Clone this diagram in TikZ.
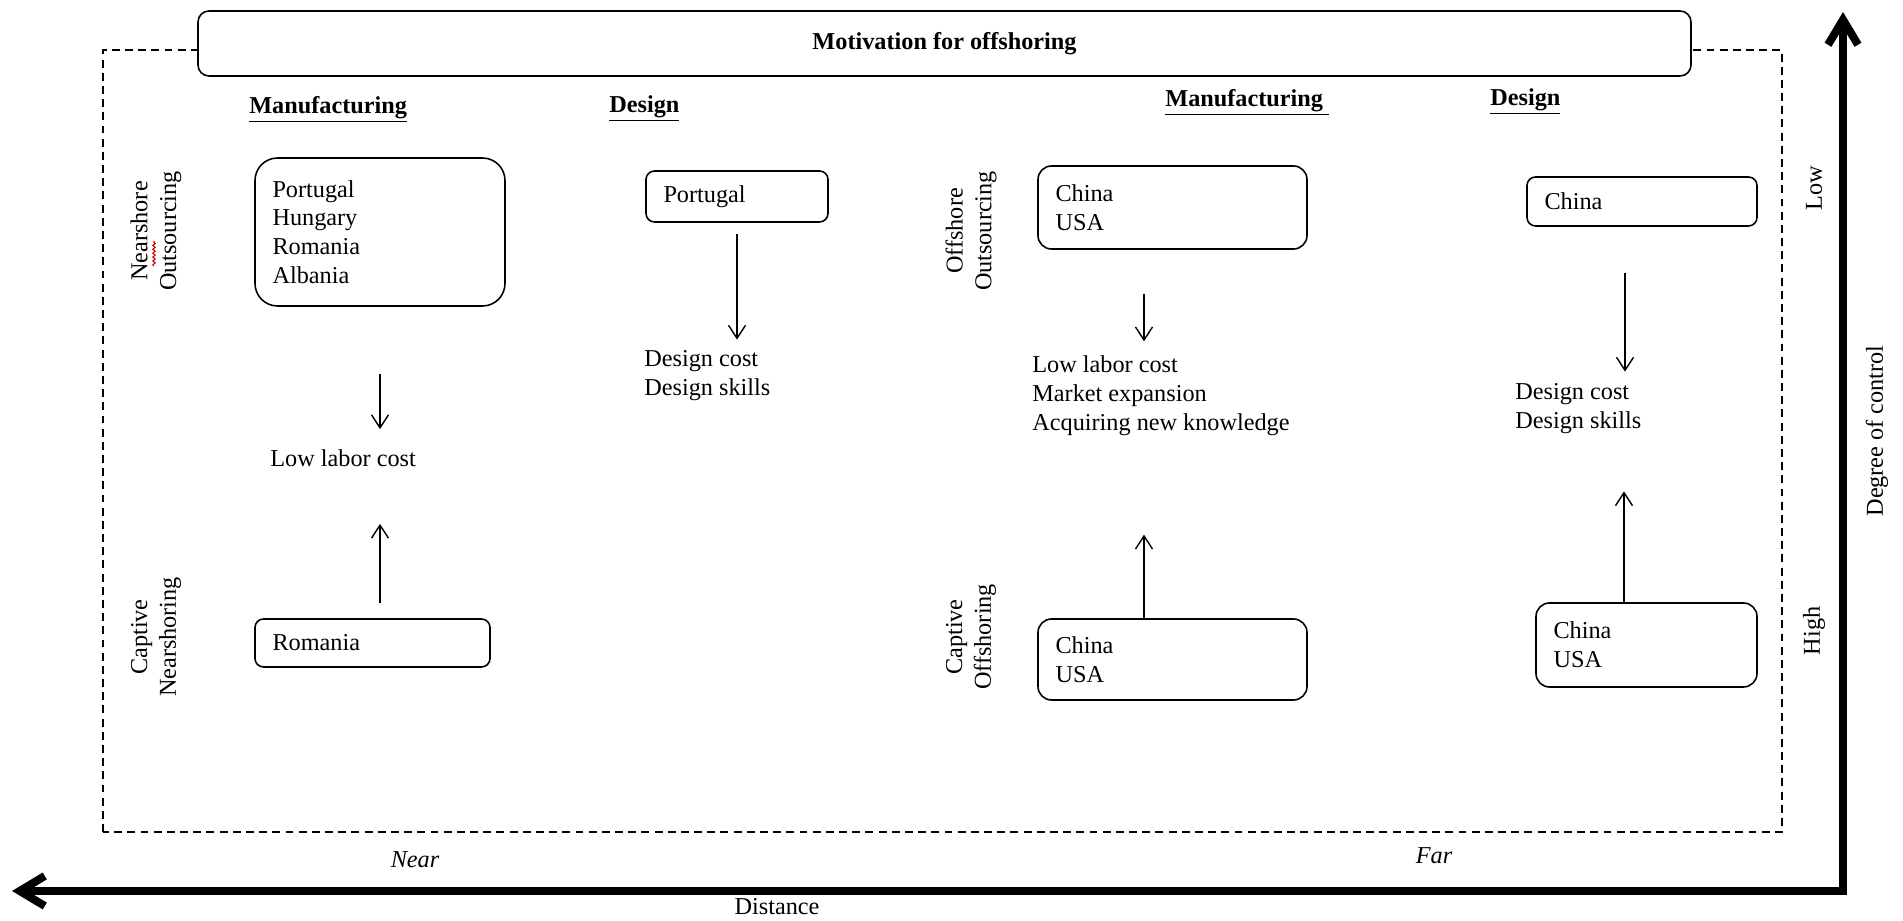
\documentclass[tikz,border=0pt]{standalone}
\usepackage{fontspec}
\setmainfont{Liberation Serif}
\usetikzlibrary{arrows.meta,decorations.pathmorphing}

\begin{document}
\begin{tikzpicture}[>={Straight Barb[length=2.6mm,width=3.4mm]},
    font=\fontsize{13.8pt}{16.4pt}\selectfont,
    box/.style={draw, line width=0.9pt, rounded corners=0.17cm, align=left,
        inner xsep=0.35cm, inner ysep=0pt},
    head/.style={anchor=west, inner sep=0pt,
        font=\fontsize{13.8pt}{16.4pt}\selectfont\bfseries},
    txt/.style={anchor=west, align=left, inner sep=0pt},
    side/.style={rotate=90, align=center, inner sep=0pt},
    thin/.style={->, line width=0.8pt}]
    \useasboundingbox (0,0) rectangle (38.06,18.42);

    \coordinate (dst) at (0.24,0.6);
    \coordinate (orig) at (36.86,0.6);
    \coordinate (ctl) at (36.86,18.18);

    \draw[line width=0.16cm, {Straight Barb[length=5mm,width=6mm]}-{Straight Barb[length=5mm,width=6mm]}]
        (dst) -- (orig) -- (ctl);
    \draw[line width=0.8pt, dash pattern=on 4.5pt off 3pt] (2.06,1.78) rectangle (35.64,17.42);

    \node[draw, fill=white, line width=0.9pt, rounded corners=0.22cm,
        minimum width=29.86cm, minimum height=1.3cm,
        font=\fontsize{13.8pt}{16.4pt}\selectfont\bfseries] (title) at (18.89,17.55)
        {Motivation for offshoring};

    \node[head] (mfgA) at (4.98,16.24) {\underline{Manufacturing}};
    \node[head] (desA) at (12.18,16.24) {\underline{Design}};
    \node[head] (mfgB) at (23.3,16.38) {\underline{Manufacturing\ }};
    \node[head] (desB) at (29.8,16.38) {\underline{Design}};

    \node[side] (nso) at (3.12,13.8) {Nearshore\\Outsourcing};
    \node[side] (cns) at (3.12,5.68) {Captive\\Nearshoring};
    \node[side] (oso) at (19.42,13.8) {Offshore\\Outsourcing};
    \node[side] (cos) at (19.42,5.68) {Captive\\Offshoring};
    \draw[red!80!black, line width=0.6pt, decorate,
        decoration={snake, amplitude=0.7pt, segment length=2.2pt}]
        ([shift={(-0.04,-0.7)}]nso.center) -- ++(0,0.5);

    \node[box, rounded corners=0.45cm, text width=4.3cm, minimum height=2.96cm] (nout)
        at (7.6,13.78) {Portugal\\Hungary\\Romania\\Albania};
    \node[box, text width=2.94cm, minimum height=1.02cm] (port) at (14.74,14.49) {Portugal};
    \node[box, text width=4.0cm, minimum height=0.96cm] (rom) at (7.45,5.56) {Romania};
    \node[box, rounded corners=0.27cm, text width=4.68cm, minimum height=1.66cm] (oout)
        at (23.45,14.27) {China\\USA};
    \node[box, rounded corners=0.27cm, text width=4.68cm, minimum height=1.62cm] (coff)
        at (23.45,5.23) {China\\USA};
    \node[box, text width=3.9cm, minimum height=0.98cm] (chn) at (32.84,14.39) {China};
    \node[box, rounded corners=0.27cm, text width=3.72cm, minimum height=1.68cm] (cdes)
        at (32.93,5.52) {China\\USA};

    \node[txt] (llc) at (5.4,9.26) {Low labor cost};
    \node[txt] (dcA) at (12.88,10.9) {Design cost\\Design skills};
    \node[txt] (mot) at (20.64,10.5) {Low labor cost\\Market expansion\\Acquiring new knowledge};
    \node[txt] (dcB) at (30.3,10.24) {Design cost\\Design skills};

    \draw[thin, shorten <=0.22cm, shorten >=0.22cm] (port.south) -- (port.south |- dcA.north);
    \draw[thin, shorten <=1.34cm, shorten >=0.4cm] (nout.south) -- (nout.south |- llc.north);
    \draw[thin, shorten <=0.3cm, shorten >=1.14cm] (rom.north -| nout.south) -- (llc.south -| nout.south);
    \draw[thin, shorten <=0.88cm, shorten >=0.29cm] ([xshift=-0.57cm]oout.south)
        -- ([xshift=-0.57cm]oout.south |- mot.north);
    \draw[thin, shorten >=1.97cm] ([xshift=-0.57cm]coff.north) -- ([xshift=-0.57cm]coff.north |- mot.south);
    \draw[thin, shorten <=0.92cm, shorten >=0.24cm] ([xshift=-0.34cm]chn.south)
        -- ([xshift=-0.34cm]chn.south |- dcB.north);
    \draw[thin, shorten >=1.14cm] ([xshift=-0.45cm]cdes.north) -- ([xshift=-0.45cm]cdes.north |- dcB.south);

    \node (near) at (8.3,1.22) {\itshape Near};
    \node (far) at (28.68,1.3) {\itshape Far};
    \node (dist) at (15.54,0.28) {Distance};
    \node[rotate=90] (low) at (36.28,14.66) {Low};
    \node[rotate=90] (high) at (36.28,5.8) {High};
    \node[rotate=90] (doc) at (37.54,9.8) {Degree of control};
\end{tikzpicture}
\end{document}
